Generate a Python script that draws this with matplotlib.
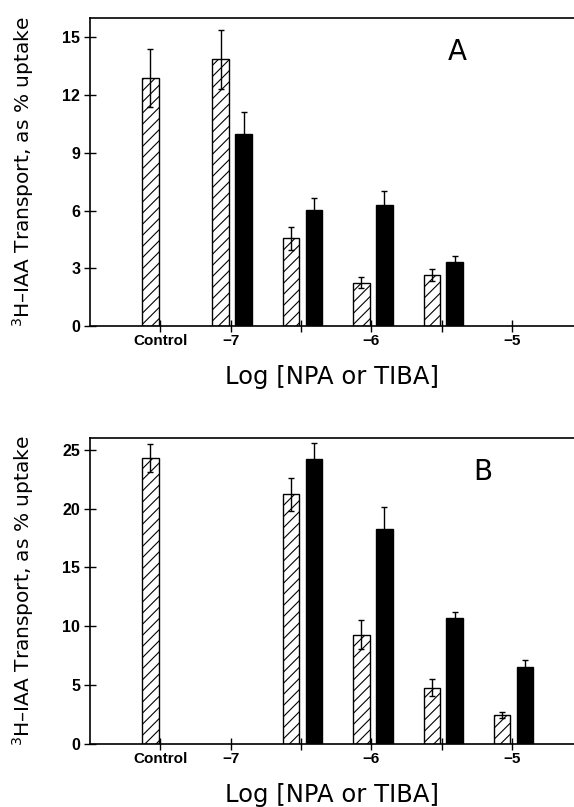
import numpy as np
import matplotlib.pyplot as plt

plt.rcParams['font.family'] = ['Liberation Sans', 'DejaVu Sans']
plt.rcParams['hatch.linewidth'] = 0.8
plt.rcParams['mathtext.fontset'] = 'dejavusans'

# panel A: log concentration (Control plotted at -7.5)
a_hatch_x = [-7.5, -7.0, -6.5, -6.0, -5.5]
a_hatch_y = [12.9, 13.85, 4.55, 2.25, 2.65]
a_hatch_err = [1.5, 1.55, 0.6, 0.3, 0.3]
a_black_x = [-7.0, -6.5, -6.0, -5.5]
a_black_y = [10.0, 6.05, 6.3, 3.3]
a_black_err = [1.1, 0.6, 0.7, 0.35]

# panel B
b_hatch_x = [-7.5, -6.5, -6.0, -5.5, -5.0]
b_hatch_y = [24.3, 21.2, 9.3, 4.8, 2.45]
b_hatch_err = [1.2, 1.4, 1.2, 0.7, 0.25]
b_black_x = [-6.5, -6.0, -5.5, -5.0]
b_black_y = [24.2, 18.3, 10.7, 6.55]
b_black_err = [1.35, 1.8, 0.55, 0.6]

tick_pos = [-7.5, -7.0, -6.5, -6.0, -5.5, -5.0]
tick_lab = ['Control', '\u22127', '', '\u22126', '', '\u22125']

W = 0.117
OFF_H = -0.071
OFF_B = 0.092

fig = plt.figure(figsize=(5.74, 8.07), dpi=100)
axA = fig.add_axes([90/574, 1-326/807, 1-90/574, 308/807])
axB = fig.add_axes([90/574, 1-744/807, 1-90/574, 306/807])


def draw(ax, hx, hy, he, bx, by, be, ylim, yticks, letter, lpos):
    hx = np.array(hx) + OFF_H
    bx = np.array(bx) + OFF_B
    ax.bar(hx, hy, W, color='white', edgecolor='black', hatch='///',
           linewidth=1.0, zorder=2)
    ax.bar(bx, by, W, color='black', edgecolor='black', linewidth=1.0, zorder=2)
    ax.errorbar(hx, hy, yerr=he, fmt='none', ecolor='black', elinewidth=1.0,
                capsize=2.5, capthick=1.0, zorder=3)
    ax.errorbar(bx, by, yerr=be, fmt='none', ecolor='black', elinewidth=1.0,
                capsize=2.5, capthick=1.0, zorder=3)
    ax.set_xlim(-8.0, -4.56)
    ax.set_ylim(*ylim)
    ax.set_yticks(yticks)
    ax.set_xticks(tick_pos)
    ax.set_xticklabels(tick_lab, fontsize=11, fontweight='bold')
    for t in ax.get_yticklabels():
        t.set_fontsize(11.5)
        t.set_fontweight('bold')
    ax.tick_params(direction='inout', length=8, width=1.0, pad=3)
    ax.tick_params(axis='x', pad=2)
    ax.spines['right'].set_visible(False)
    for s in ['left', 'bottom', 'top']:
        ax.spines[s].set_linewidth(1.2)
    ax.set_ylabel('$^{3}$H\u2013IAA Transport, as % uptake', fontsize=14.5,
                  family='DejaVu Sans', labelpad=19)
    ax.set_xlabel('Log [NPA or TIBA]', fontsize=17.5, family='DejaVu Sans',
                  labelpad=12)
    ax.text(lpos[0], lpos[1], letter, fontsize=20, family='DejaVu Sans',
            transform=ax.transAxes, ha='center', va='center')


draw(axA, a_hatch_x, a_hatch_y, a_hatch_err, a_black_x, a_black_y, a_black_err,
     (0, 16), [0, 3, 6, 9, 12, 15], 'A', ((457-90)/484, 1-(52-18)/308))
draw(axB, b_hatch_x, b_hatch_y, b_hatch_err, b_black_x, b_black_y, b_black_err,
     (0, 26), [0, 5, 10, 15, 20, 25], 'B', ((483-90)/484, 1-(472-438)/306))

fig.savefig('out.png', dpi=100)
